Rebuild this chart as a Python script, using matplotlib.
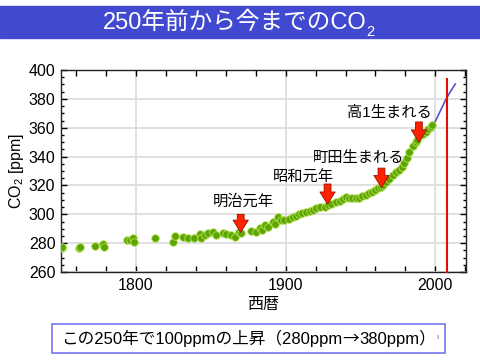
import matplotlib
matplotlib.use("Agg")
import matplotlib.pyplot as plt
from matplotlib.patches import Rectangle
from matplotlib.ticker import MultipleLocator

plt.rcParams['font.family'] = ['Liberation Sans', 'Noto Sans CJK JP', 'DejaVu Sans']
plt.rcParams['mathtext.fontset'] = 'custom'
plt.rcParams['mathtext.rm'] = 'Liberation Sans'

# 氷床コアのデータ (緑の点)
core_years = [1750.5, 1751, 1762, 1763, 1772.7, 1778, 1779, 1793.8, 1796, 1798, 1798.7,
              1812.7, 1824.9, 1826, 1831.5, 1835, 1839, 1842.7, 1843.8, 1846, 1848,
              1851.5, 1853.8, 1858, 1860, 1863.8, 1866, 1869, 1870, 1877, 1880, 1882.7,
              1884, 1886, 1888, 1891.5, 1893, 1895, 1897, 1899, 1902, 1905, 1907, 1909,
              1911, 1913.8, 1916, 1918, 1920.5, 1923, 1926, 1928, 1930, 1933.8, 1936,
              1938, 1940.5, 1942, 1944, 1947, 1949, 1951, 1953.8, 1956, 1958, 1960, 1962,
              1963.8, 1965, 1967, 1969, 1971.5, 1974, 1976, 1978, 1979, 1981, 1982.7, 1985,
              1987, 1988, 1990.5, 1992, 1993.8, 1995, 1997, 1998]
core_ppm = [276.5, 277.5, 276.5, 277.5, 278, 279.5, 277, 282.2, 282.5, 283.8, 281,
            283.8, 281, 285, 284.5, 283.8, 283.3, 286.3, 283.3, 285.7, 286.8,
            288, 285.7, 286.8, 286.3, 285.7, 284.5, 288, 287, 288.6, 287.5, 290.3,
            289, 292.6, 291, 295, 293, 298.3, 296, 296, 297, 298.3, 299, 300.2,
            301, 301.8, 302.5, 303, 304.2, 305, 305.3, 306.5, 307, 308.8, 309.5,
            310.5, 312.2, 311.5, 311, 311, 311.5, 312.5, 313.4, 314.5, 315.7, 317, 318,
            319, 320.5, 322.6, 324.5, 327.2, 329, 330.7, 333, 335.3, 339, 343.4, 347,
            350.3, 351.5, 355, 356, 357.3, 359, 360.7, 362]

# 大気観測 (青い線)
obs_years = [1958, 1965, 1970, 1975, 1978, 1985, 1990, 1995, 1999.3, 2003, 2006.7, 2010, 2013.3]
obs_ppm = [315, 320, 326, 331, 336.5, 346.9, 354, 359, 363, 371, 379, 385, 390.3]

# 出来事 (矢印)
events = ["明治元年", "昭和元年", "町田生まれる", "高1生まれる"]
event_years = [1870, 1928, 1964, 1989]
arrow_top = [300, 321, 332, 364]
arrow_tip = [287.5, 307, 318.5, 350]
label_x = [1872, 1912, 1949, 1969]
label_y = [309, 325.5, 339, 370]

fig = plt.figure(figsize=(4.8, 3.6), dpi=100)
W = fig.bbox.width


def right_edge(t):
    fig.canvas.draw()
    return t.get_window_extent().x1 / W


# タイトル帯
fig.patches.append(Rectangle((0, 0.8944), 1, 0.0889, transform=fig.transFigure,
                             color="#4149d0", zorder=0))
title = fig.text(0.49, 0.938, "250年前から今までのCO", color="white", fontsize=17,
                 ha="center", va="center")
fig.text(right_edge(title) - 0.002, 0.912, "2", color="white", fontsize=10.5,
         ha="left", va="center")

ax = fig.add_axes([0.127, 0.2444, 0.844, 0.5611])
ax.set_xlim(1750, 2020.5)
ax.set_ylim(260, 400)
ax.xaxis.set_major_locator(MultipleLocator(100))
ax.xaxis.set_minor_locator(MultipleLocator(20))
ax.yaxis.set_major_locator(MultipleLocator(20))
ax.yaxis.set_minor_locator(MultipleLocator(5))
ax.tick_params(which="both", direction="in", top=True, right=True, labelsize=11.5, pad=4)
ax.tick_params(axis="x", which="both", length=4, width=1)
ax.tick_params(axis="y", which="major", length=4, width=1)
ax.tick_params(axis="y", which="minor", length=2.5, width=1)
ax.grid(True, which="major", color="#dddddd", lw=1.3)
ax.set_axisbelow(True)
for s in ax.spines.values():
    s.set_linewidth(1.0)
    s.set_color("#222222")

ax.plot(obs_years, obs_ppm, color="#5555cc", lw=1.2, zorder=2)
ax.scatter(core_years, core_ppm, s=30, color="#5ba600", edgecolor="#b8e05a",
           linewidths=0.6, zorder=3)
ax.plot([2008, 2008], [260, 393.5], color="#dd1100", lw=1.5, zorder=4, clip_on=False)

for name, x, yt, yp, lx, ly in zip(events, event_years, arrow_top, arrow_tip, label_x, label_y):
    ax.annotate("", xy=(x, yp), xytext=(x, yt),
                arrowprops=dict(arrowstyle="simple,head_length=0.8,head_width=1.0,tail_width=0.45",
                                fc="#ff2200", ec="#991100", lw=0.6, mutation_scale=11,
                                shrinkA=0, shrinkB=0),
                zorder=5)
    ax.text(lx, ly, name, fontsize=11, ha="center", va="center", zorder=6)

ax.set_xlabel("西暦", fontsize=11.5, labelpad=3)
ax.set_ylabel("CO$_2$ [ppm]", fontsize=11.5, labelpad=2)

# 下の枠
fig.patches.append(Rectangle((0.1083, 0.0194), 0.8187, 0.0806, transform=fig.transFigure,
                             fc="white", ec="#7575f0", lw=1.2))
parts = ["この250年で100ppmの上昇（280ppm", "→", "380ppm）"]
x = 0.128
for p in parts:
    fam = ["Noto Sans CJK JP"] if p == "→" else None
    t = fig.text(x, 0.059, p, fontsize=12, family=fam, ha="left", va="center")
    x = right_edge(t)
fig.text(x + 0.002, 0.062, "ı", fontsize=6, color="#666666", ha="center", va="center")

fig.savefig("out.png", dpi=100)
